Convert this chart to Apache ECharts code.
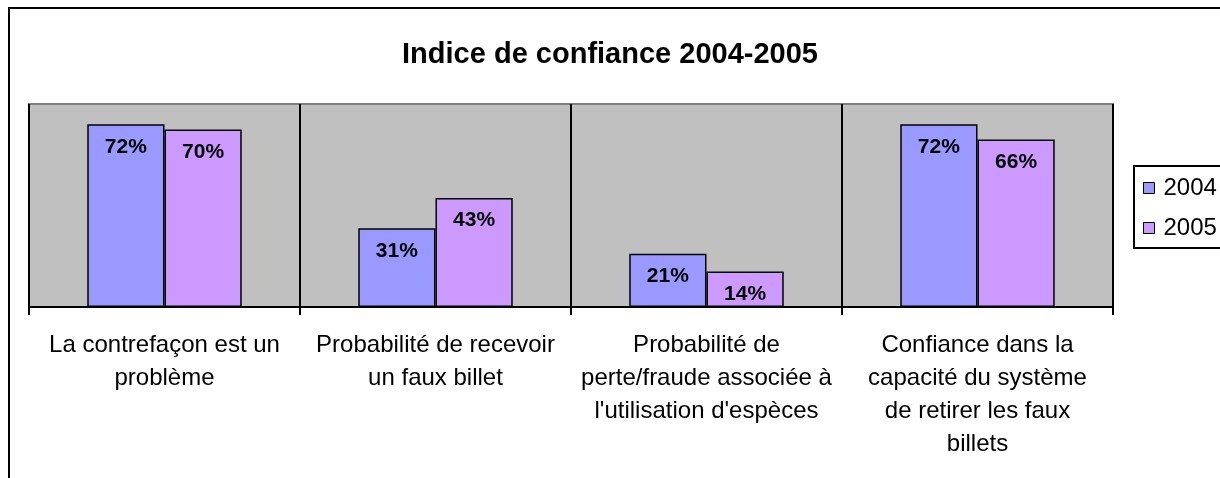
<!DOCTYPE html>
<html>
<head>
<meta charset="utf-8">
<script src="https://cdn.jsdelivr.net/npm/echarts@6/dist/echarts.min.js"></script>
<style>
html,body{margin:0;padding:0;background:#fff;}
#chart{width:1220px;height:478px;}
</style>
</head>
<body>
<div id="chart"></div>
<script>
const categories = [
  "La contrefaçon est un\nproblème",
  "Probabilité de recevoir\nun faux billet",
  "Probabilité de\nperte/fraude associée à\nl'utilisation d'espèces",
  "Confiance dans la\ncapacité du système\nde retirer les faux\nbillets"
];
const values2004 = [72, 31, 21, 72];
const values2005 = [70, 43, 14, 66];
const seriesNames = ["2004", "2005"];
const titleText = "Indice de confiance 2004-2005";

const FONT = '"Liberation Sans", Arial, sans-serif';
const chart = echarts.init(document.getElementById('chart'), null, {renderer: 'canvas'});

const labelStyle = {
  show: true,
  position: 'insideTop',
  distance: 12,
  formatter: '{c}%',
  fontFamily: FONT,
  fontWeight: 'bold',
  fontSize: 21,
  color: '#000'
};

chart.setOption({
  animation: false,
  backgroundColor: '#fff',
  title: {
    text: titleText,
    left: 'center',
    top: 40,
    padding: 0,
    textStyle: {fontFamily: FONT, fontWeight: 'bold', fontSize: 29, color: '#000'}
  },
  graphic: [{
    type: 'rect',
    z: -10,
    shape: {x: 9, y: 8, width: 1400, height: 1000},
    style: {fill: 'none', stroke: '#000', lineWidth: 2}
  }],
  legend: {
    orient: 'vertical',
    left: 1134,
    top: 166,
    padding: [10, 12, 8, 9],
    itemGap: 16,
    itemWidth: 11,
    itemHeight: 11,
    icon: 'rect',
    borderColor: '#000',
    borderWidth: 2,
    backgroundColor: '#fff',
    data: seriesNames,
    itemStyle: {borderColor: '#000', borderWidth: 1},
    textStyle: {fontFamily: FONT, fontSize: 24, color: '#000', padding: [0, 0, 0, 4]}
  },
  grid: {
    left: 29,
    top: 104,
    right: 107,
    bottom: 171,
    show: true,
    backgroundColor: '#C0C0C0',
    borderColor: '#808080',
    borderWidth: 2,
    containLabel: false
  },
  xAxis: {
    type: 'category',
    data: categories,
    axisLine: {show: true, lineStyle: {color: '#000', width: 2}},
    axisTick: {show: true, alignWithLabel: false, length: 8, lineStyle: {color: '#000', width: 2}},
    splitLine: {show: true, lineStyle: {color: '#000', width: 2}},
    axisLabel: {
      interval: 0,
      margin: 22,
      fontFamily: FONT,
      fontSize: 24,
      lineHeight: 33,
      color: '#000',
      align: 'center'
    }
  },
  yAxis: {
    type: 'value',
    min: 0,
    max: 80,
    show: false,
    splitLine: {show: false}
  },
  series: [
    {
      name: seriesNames[0],
      type: 'bar',
      data: values2004,
      barGap: '0%',
      barCategoryGap: '43%',
      itemStyle: {color: '#9999FF', borderColor: '#000', borderWidth: 1.5},
      label: labelStyle
    },
    {
      name: seriesNames[1],
      type: 'bar',
      data: values2005,
      barGap: '0%',
      barCategoryGap: '43%',
      itemStyle: {color: '#CC99FF', borderColor: '#000', borderWidth: 1.5},
      label: labelStyle
    }
  ]
});
</script>
</body>
</html>
